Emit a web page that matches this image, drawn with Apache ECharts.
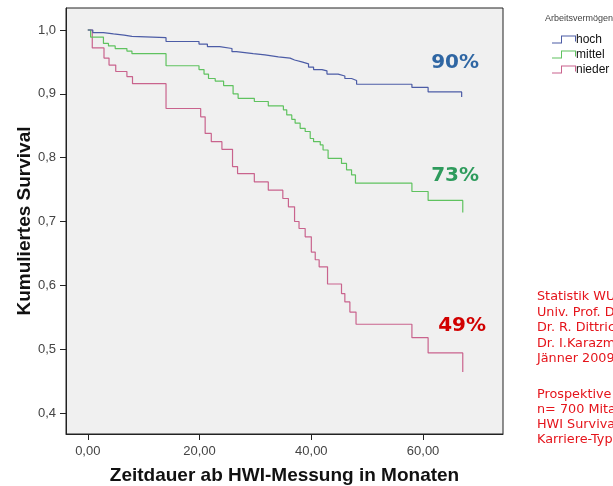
<!DOCTYPE html>
<html>
<head>
<meta charset="utf-8">
<script src="https://cdn.jsdelivr.net/npm/echarts@6/dist/echarts.min.js"></script>
<style>
  html, body { margin: 0; padding: 0; background: #ffffff; }
  #chart { width: 613px; height: 486px; }
</style>
</head>
<body>
<div id="chart"></div>
<script>
// Kaplan-Meier curves by group: event times (months) and survival after each event
const groupNames = ['hoch', 'mittel', 'nieder'];

const hochTime = [0, 0.9, 2.8, 4.6, 6.5, 7.9, 14.0, 19.9, 21.4, 23.6, 25.8, 26.6, 29.6, 31.7, 34.1, 36.2, 37.0, 38.3, 39.5, 40.4, 41.9, 42.8, 44.8, 46.0, 47.2, 48.1, 58.0, 60.9, 66.9];
const hochSurv = [1.0, 0.996, 0.994, 0.992, 0.990, 0.988, 0.982, 0.978, 0.974, 0.971, 0.966, 0.963, 0.961, 0.958, 0.956, 0.953, 0.950, 0.947, 0.942, 0.938, 0.936, 0.931, 0.928, 0.924, 0.921, 0.915, 0.910, 0.903, 0.895];

const mittelTime = [0, 0.5, 2.8, 3.7, 4.9, 7.0, 7.9, 14.0, 19.9, 20.8, 21.6, 22.8, 24.3, 26.0, 26.9, 29.8, 32.3, 35.0, 35.6, 36.5, 37.1, 38.0, 38.9, 39.8, 40.4, 41.6, 42.1, 43.0, 45.4, 46.3, 47.2, 47.9, 58.0, 60.9, 67.1];
const mittelSurv = [1.0, 0.989, 0.979, 0.975, 0.971, 0.967, 0.963, 0.944, 0.938, 0.931, 0.924, 0.920, 0.913, 0.900, 0.893, 0.888, 0.881, 0.875, 0.867, 0.860, 0.854, 0.846, 0.841, 0.830, 0.825, 0.820, 0.812, 0.799, 0.791, 0.781, 0.773, 0.760, 0.747, 0.733, 0.714];

const niederTime = [0, 0.8, 2.9, 3.8, 5.0, 7.0, 8.0, 14.0, 20.2, 21.0, 22.1, 24.0, 25.9, 26.8, 29.8, 32.3, 34.9, 35.9, 37.0, 37.8, 38.9, 40.0, 40.7, 41.4, 42.9, 45.4, 46.0, 46.9, 48.0, 58.0, 60.9, 67.1];
const niederSurv = [1.0, 0.972, 0.956, 0.945, 0.935, 0.927, 0.916, 0.877, 0.864, 0.838, 0.825, 0.813, 0.786, 0.775, 0.762, 0.749, 0.736, 0.723, 0.700, 0.689, 0.676, 0.652, 0.640, 0.629, 0.602, 0.587, 0.574, 0.558, 0.539, 0.518, 0.494, 0.464];

const xTicks = [0, 20, 40, 60];
const yTicks = [0.4, 0.5, 0.6, 0.7, 0.8, 0.9, 1.0];

const creditLines = [
  'Statistik WU Wien',
  'Univ. Prof. Dr. R. Hatzinger',
  'Dr. R. Dittrich',
  'Dr. I.Karazman',
  'Jänner 2009'
];
const studyLines = [
  'Prospektive Studie',
  'n= 700 Mitarbeiter',
  'HWI Survival Analyse',
  'Karriere-Typen'
];

const lineColors = ['#4c5ca6', '#5fc25f', '#c9638d'];
const pctColors = ['#2f66a3', '#2e9b5c', '#d10000'];
const pctOffsets = [[27, -29], [27, -25], [34, -27]];

const groups = [
  [hochTime, hochSurv],
  [mittelTime, mittelSurv],
  [niederTime, niederSurv]
];

const series = groups.map(function (g, i) {
  const times = g[0], surv = g[1];
  const last = times.length - 2; // final plateau carries the percentage label
  const data = times.map(function (t, k) {
    const item = { value: [t, surv[k]] };
    if (k === last) {
      item.label = {
        show: true,
        position: 'inside',
        offset: pctOffsets[i],
        formatter: function (p) { return Math.round(p.value[1] * 100) + '%'; },
        color: pctColors[i],
        fontFamily: 'DejaVu Sans',
        fontWeight: 'bold',
        fontSize: 20
      };
    }
    return item;
  });
  return {
    name: groupNames[i],
    type: 'line',
    step: 'end',
    data: data,
    showSymbol: true,
    symbol: 'circle',
    symbolSize: 0,
    color: lineColors[i],
    lineStyle: { color: lineColors[i], width: 1.2 },
    label: { show: false },
    emphasis: { disabled: true },
    z: 3 - i
  };
});

const chart = echarts.init(document.getElementById('chart'), null, { renderer: 'canvas' });

chart.setOption({
  animation: false,
  backgroundColor: '#ffffff',
  grid: {
    show: true,
    left: 66, top: 8, right: 110, bottom: 52,
    outerBoundsMode: 'none',
    containLabel: false,
    backgroundColor: '#f0f0f0',
    borderColor: '#222222',
    borderWidth: 1
  },
  legend: {
    orient: 'vertical',
    left: 547,
    top: 28,
    itemWidth: 24,
    itemHeight: 8,
    itemGap: 2,
    // thin step-shaped stroke used as the legend marker
    icon: 'path://M0,8L10,8L10,1L23,1L23,6L24,6L24,0L9,0L9,7L0,7Z',
    textStyle: { fontFamily: 'Liberation Sans', fontSize: 12, color: '#111111', lineHeight: 13, padding: [0, 0, 0, -5] },
    data: groupNames
  },
  xAxis: {
    type: 'value',
    min: -3.9,
    max: 74.3,
    name: 'Zeitdauer ab HWI-Messung in Monaten',
    nameLocation: 'middle',
    nameGap: 32,
    nameMoveOverlap: false,
    nameTextStyle: { fontFamily: 'Liberation Sans', fontWeight: 'bold', fontSize: 19, color: '#111111' },
    axisLine: { show: true, onZero: false, lineStyle: { color: '#222222' } },
    axisTick: { show: true, length: 6, lineStyle: { color: '#222222' }, customValues: xTicks },
    axisLabel: {
      margin: 11,
      customValues: xTicks,
      fontFamily: 'Liberation Sans', fontSize: 13, color: '#444444',
      formatter: function (v) { return v.toFixed(2).replace('.', ','); }
    },
    splitLine: { show: false }
  },
  yAxis: {
    type: 'value',
    min: 0.367,
    max: 1.0345,
    name: 'Kumuliertes Survival',
    nameLocation: 'middle',
    nameGap: 32,
    nameMoveOverlap: false,
    nameTextStyle: { fontFamily: 'Liberation Sans', fontWeight: 'bold', fontSize: 19, color: '#111111' },
    axisLine: { show: true, onZero: false, lineStyle: { color: '#222222' } },
    axisTick: { show: true, length: 6, lineStyle: { color: '#222222' }, customValues: yTicks },
    axisLabel: {
      margin: 10,
      customValues: yTicks,
      fontFamily: 'Liberation Sans', fontSize: 13, color: '#444444',
      formatter: function (v) { return v.toFixed(1).replace('.', ','); }
    },
    splitLine: { show: false }
  },
  graphic: [
    {
      type: 'text',
      left: 545,
      top: 14,
      style: { text: 'Arbeitsvermögen', fontFamily: 'Liberation Sans', fontSize: 9, fill: '#444444' }
    },
    {
      type: 'text',
      left: 537,
      top: 289,
      style: {
        text: creditLines.join('\n'),
        fontFamily: 'DejaVu Sans',
        fontSize: 12.8,
        lineHeight: 15.5,
        fill: '#e5141b'
      }
    },
    {
      type: 'text',
      left: 537,
      top: 387,
      style: {
        text: studyLines.join('\n'),
        fontFamily: 'DejaVu Sans',
        fontSize: 12.8,
        lineHeight: 15,
        fill: '#e5141b'
      }
    }
  ],
  series: series
});
</script>
</body>
</html>
